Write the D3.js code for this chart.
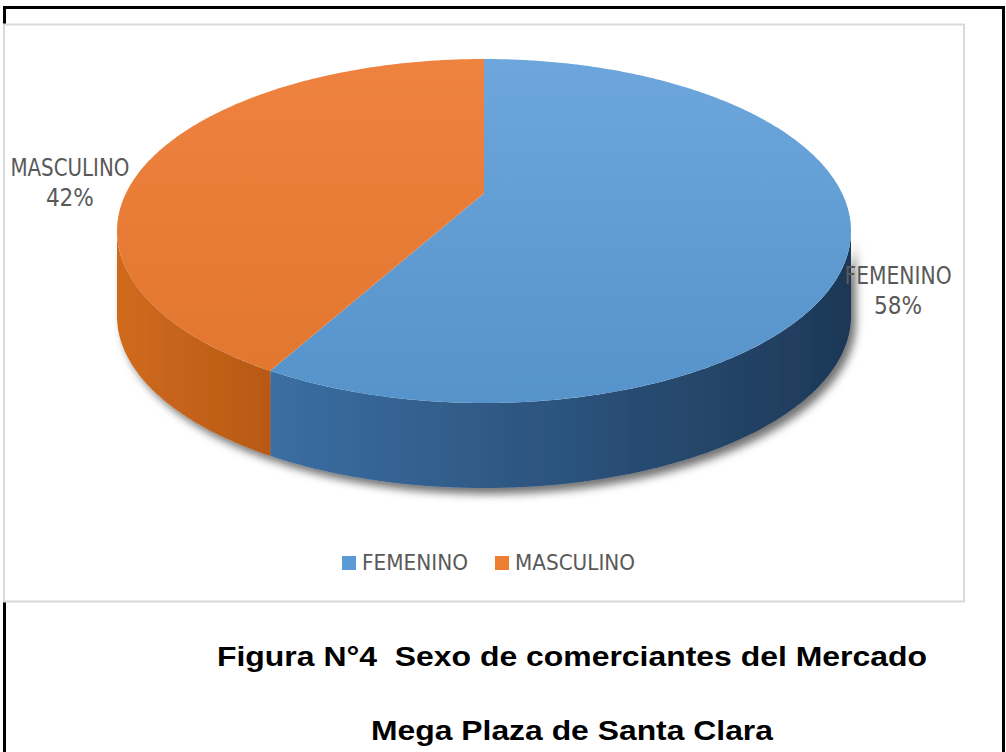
<!DOCTYPE html>
<html>
<head>
<meta charset="utf-8">
<script src="https://cdn.jsdelivr.net/npm/d3@7"></script>
<style>
  body { margin: 0; background: #fff; }
  svg { display: block; }
</style>
</head>
<body>
<svg width="1006" height="752"></svg>
<script>
// Data
var categories = ["FEMENINO", "MASCULINO"];
var values = [58, 42];
var titleLines = ["Figura N°4  Sexo de comerciantes del Mercado", "Mega Plaza de Santa Clara"];

var svg = d3.select("svg");

// 3D pie geometry: tilted disc seen in perspective
var cx = 484, midY = 231, rx = 367, ry = 172, depth = 85;
var persp = 0.22;                                  // perspective strength
var A = rx * Math.sqrt(1 - persp * persp);         // horizontal radius before perspective
var B = ry * (1 - persp * persp);                  // vertical radius before perspective
var cy = (midY - ry) + B / (1 + persp);            // projected centre of the disc

var topColor = d3.scaleOrdinal().domain(categories).range(["#5b9bd5", "#ed7d31"]);
var topLight = d3.scaleOrdinal().domain(categories).range(["#6ca6dc", "#ee823f"]);
var sideLeft = d3.scaleOrdinal().domain(categories).range(["#3b6ea3", "#d06a1f"]);
var sideRight = d3.scaleOrdinal().domain(categories).range(["#1d3856", "#b75915"]);

var defs = svg.append("defs");

var shadow = defs.append("filter").attr("id", "shadow")
    .attr("x", "-10%").attr("y", "-10%").attr("width", "130%").attr("height", "140%");
shadow.append("feDropShadow")
    .attr("dx", 5).attr("dy", 6).attr("stdDeviation", 4)
    .attr("flood-color", "#000").attr("flood-opacity", 0.55);

categories.forEach(function (c, i) {
  var gt = defs.append("linearGradient").attr("id", "top" + i)
      .attr("gradientUnits", "userSpaceOnUse")
      .attr("x1", 0).attr("y1", midY - ry).attr("x2", 0).attr("y2", midY + ry);
  gt.append("stop").attr("offset", "0%").attr("stop-color", topLight(c));
  gt.append("stop").attr("offset", "100%").attr("stop-color", d3.color(topColor(c)).darker(0.15));

  defs.append("linearGradient").attr("id", "side" + i)
      .attr("gradientUnits", "userSpaceOnUse")
      .attr("y1", 0).attr("y2", 0);
});

// Frames
svg.append("rect")
    .attr("x", 4.5).attr("y", 7.5).attr("width", 999).attr("height", 760)
    .attr("fill", "none").attr("stroke", "#000").attr("stroke-width", 3);

svg.append("rect")
    .attr("x", 4).attr("y", 24.5).attr("width", 960).attr("height", 577)
    .attr("fill", "#fff").attr("stroke", "#d9d9d9").attr("stroke-width", 2);

var pie = d3.pie().sort(null).value(function (d) { return d; });
var arcs = pie(values);

function proj(a, dy) {
  var w = 1 / (1 + persp * Math.cos(a));
  return [cx + A * Math.sin(a) * w, cy - B * Math.cos(a) * w + dy];
}

function arcPoints(a0, a1, dy) {
  var pts = [], n = Math.max(2, Math.ceil(Math.abs(a1 - a0) / 0.01));
  for (var k = 0; k <= n; k++) pts.push(proj(a0 + (a1 - a0) * k / n, dy));
  return pts;
}

var line = d3.line();

// Side walls between the silhouette points
var aLeft = Math.acos(-persp), aRight = 2 * Math.PI - aLeft;
var sides = svg.append("g").attr("filter", "url(#shadow)");
arcs.forEach(function (d, i) {
  var a0 = Math.max(d.startAngle, aLeft),
      a1 = Math.min(d.endAngle, aRight);
  if (a1 <= a0) return;
  var top = arcPoints(a0, a1, 0);
  var bottom = arcPoints(a1, a0, depth);
  var xs = top.map(function (p) { return p[0]; });
  var grad = d3.select("#side" + i)
      .attr("x1", d3.min(xs)).attr("x2", d3.max(xs));
  grad.append("stop").attr("offset", "0%").attr("stop-color", sideLeft(categories[i]));
  grad.append("stop").attr("offset", "100%").attr("stop-color", sideRight(categories[i]));
  sides.append("path")
      .attr("d", line(top.concat(bottom)) + "Z")
      .attr("fill", "url(#side" + i + ")");
});

// Top faces
var tops = svg.append("g");
arcs.forEach(function (d, i) {
  var pts = [[cx, cy]].concat(arcPoints(d.startAngle, d.endAngle, 0));
  tops.append("path")
      .attr("d", line(pts) + "Z")
      .attr("fill", "url(#top" + i + ")");
});

// Data labels
var labelFont = "'Liberation Sans Narrow', 'DejaVu Sans Condensed', 'Roboto Condensed', sans-serif";
var labelWidths = { "FEMENINO": 107, "MASCULINO": 119 };
arcs.forEach(function (d, i) {
  var mid = (d.startAngle + d.endAngle) / 2;
  var lx = cx + Math.sin(mid) * rx * 1.165;
  var ly = midY - Math.cos(mid) * ry * 1.27 + 6;
  var t = svg.append("text")
      .attr("x", lx).attr("y", ly - 7)
      .attr("text-anchor", "middle")
      .attr("font-family", labelFont)
      .attr("font-size", 24)
      .attr("fill", "#595959");
  t.append("tspan").attr("x", lx).attr("dy", 0)
      .attr("textLength", labelWidths[categories[i]]).attr("lengthAdjust", "spacingAndGlyphs")
      .text(categories[i]);
  t.append("tspan").attr("x", lx).attr("dy", 30)
      .text(values[i] + "%");
});

// Legend
var legend = svg.append("g").attr("transform", "translate(342,556)");
var legendX = [0, 153];
categories.forEach(function (c, i) {
  var g = legend.append("g").attr("transform", "translate(" + legendX[i] + ",0)");
  g.append("rect").attr("width", 14).attr("height", 14).attr("fill", topColor(c));
  g.append("text")
      .attr("x", 20).attr("y", 14)
      .attr("font-family", labelFont)
      .attr("font-size", 22)
      .attr("fill", "#595959")
      .attr("textLength", labelWidths[c] - (i === 0 ? 1 : -1))
      .attr("lengthAdjust", "spacingAndGlyphs")
      .text(c);
});

// Caption (text is stretched wider in the original)
var captionWidths = [710, 402];
svg.selectAll(".caption")
    .data(titleLines)
    .enter().append("text")
    .attr("class", "caption")
    .attr("x", 572)
    .attr("y", function (d, i) { return i === 0 ? 666 : 740; })
    .attr("text-anchor", "middle")
    .attr("font-family", "'Liberation Sans', Arial, sans-serif")
    .attr("font-weight", "bold")
    .attr("font-size", 28)
    .attr("fill", "#000")
    .attr("textLength", function (d, i) { return captionWidths[i]; })
    .attr("lengthAdjust", "spacingAndGlyphs")
    .style("white-space", "pre")
    .text(function (d) { return d; });
</script>
</body>
</html>
